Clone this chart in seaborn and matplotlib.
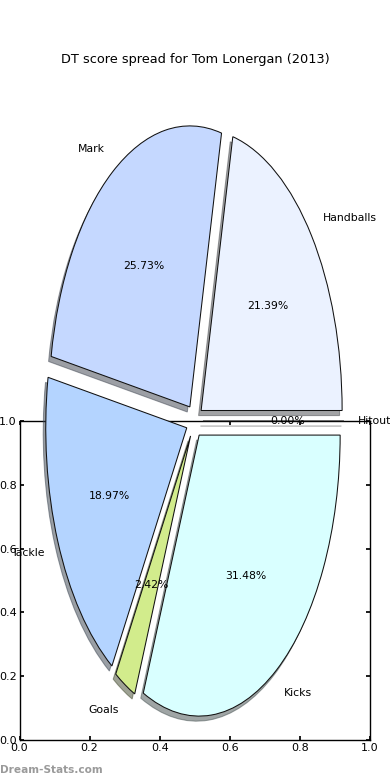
import matplotlib
matplotlib.use('Agg')
import matplotlib.pyplot as plt
import seaborn as sns

# data
labels = ['Handballs', 'Mark', 'Tackle', 'Goals', 'Kicks', 'Hitout']
shares = [21.39, 25.73, 18.97, 2.42, 31.48, 0.0]
colors = ['#EBF2FF', '#C5D8FF', '#B4D4FF', '#D2EC8C', '#D9FFFF', '#F4F4F4']
ticks = [0.0, 0.2, 0.4, 0.6, 0.8, 1.0]
tick_labels = ['0.0', '0.2', '0.4', '0.6', '0.8', '1.0']

sns.set_theme(style='ticks')
plt.rcParams['font.family'] = ['DejaVu Sans']
plt.rcParams.update({
    'axes.edgecolor': 'black', 'axes.linewidth': 1.0,
    'text.color': 'black', 'xtick.color': 'black', 'ytick.color': 'black',
    'xtick.direction': 'in', 'ytick.direction': 'in',
    'xtick.top': True, 'ytick.right': True,
    'xtick.labelsize': 8, 'ytick.labelsize': 8,
    'xtick.major.size': 3, 'ytick.major.size': 3,
    'xtick.major.pad': 2, 'ytick.major.pad': 2,
})

W, H = 390, 780
fig = plt.figure(figsize=(W / 100, H / 100), dpi=100)

# empty 0-1 axes underneath the pie
ax = fig.add_axes([19.5 / W, 40 / H, 350.5 / W, 319 / H], zorder=1)
ax.set_xlim(0, 1)
ax.set_ylim(0, 1)
ax.set_xticks(ticks)
ax.set_xticklabels(tick_labels)
ax.set_yticks(ticks)
ax.set_yticklabels(tick_labels)

# pie on a transparent full-figure axes, stretched (no equal aspect)
cx, cy = 194.5, H - 421   # centre in pixels from bottom-left
rx, ry = 141, 281         # radius in pixels
axp = fig.add_axes([0, 0, 1, 1], zorder=2)
axp.patch.set_alpha(0)
axp.pie(shares, labels=labels, colors=colors, explode=[0.06] * len(shares),
        autopct='%.2f%%', pctdistance=0.6, labeldistance=1.1, startangle=0,
        shadow={'ox': -0.013, 'oy': -0.013},
        wedgeprops={'edgecolor': '#111111', 'linewidth': 0.75},
        textprops={'fontsize': 7.8})
axp.set_aspect('auto')
axp.set_xlim(-cx / rx, (W - cx) / rx)
axp.set_ylim(-cy / ry, (H - cy) / ry)
axp.axis('off')

fig.text(0.5, (H - 60) / H, 'DT score spread for Tom Lonergan (2013)',
         ha='center', va='center', fontsize=9.3)
fig.text(0.0, (H - 770) / H, 'Dream-Stats.com', ha='left', va='center',
         fontsize=7.6, fontweight='bold', color='#9a9a9a')

fig.savefig('out.png', dpi=100)
plt.close(fig)
